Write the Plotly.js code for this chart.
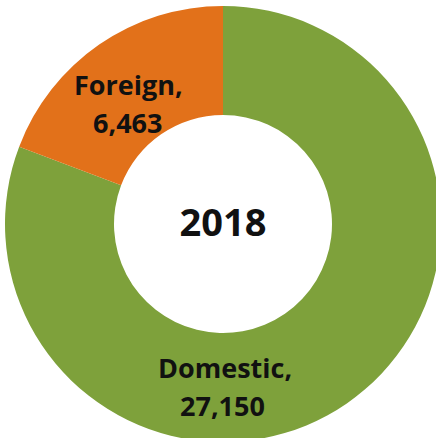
<!DOCTYPE html>
<html>
<head>
<meta charset="utf-8">
<script src="https://cdn.plot.ly/plotly-3.0.1.min.js"></script>
<style>
  html, body { margin: 0; padding: 0; overflow: hidden; background: #fff; }
  #chart { width: 446px; height: 448px; }
</style>
</head>
<body>
<div id="chart"></div>
<script>
const categories = ['Domestic', 'Foreign'];
const values = [27150, 6463];
const colors = ['#7EA13B', '#E2711A'];
const year = '2018';

const W = 446, H = 448;
const fmt = v => v.toLocaleString('en-US');
const fontFamily = '"Open Sans", "Liberation Sans", sans-serif';
const labelFont = { family: fontFamily, size: 27, color: '#111', weight: 'bold' };

// label spots (px in the page): [name line, value line]
const labelSpots = [
  [[225, 367], [222, 405]],
  [[128, 84], [127, 123]]
];

const annotations = [];
categories.forEach((c, i) => {
  const lines = [c + ',', fmt(values[i])];
  lines.forEach((t, j) => {
    const [px, py] = labelSpots[i][j];
    annotations.push({
      text: t, x: px / W, y: 1 - py / H, xref: 'paper', yref: 'paper',
      xanchor: 'center', yanchor: 'middle', showarrow: false, font: labelFont
    });
  });
});

const data = [{
  type: 'pie',
  labels: categories,
  values: values,
  hole: 0.5,
  sort: false,
  direction: 'clockwise',
  rotation: 0,
  marker: { colors: colors, line: { width: 0 } },
  textinfo: 'none',
  hoverinfo: 'label+value',
  domain: { x: [5 / W, 441 / W], y: [0.5 - 218 / H, 0.5 + 218 / H] },
  title: {
    text: year,
    position: 'middle center',
    font: { family: fontFamily, size: 38, color: '#111', weight: 'bold' }
  }
}];

const layout = {
  width: W,
  height: H,
  margin: { l: 0, r: 0, t: 0, b: 0 },
  showlegend: false,
  paper_bgcolor: '#ffffff',
  annotations: annotations
};

Plotly.newPlot('chart', data, layout, { displayModeBar: false, staticPlot: true });
</script>
</body>
</html>
